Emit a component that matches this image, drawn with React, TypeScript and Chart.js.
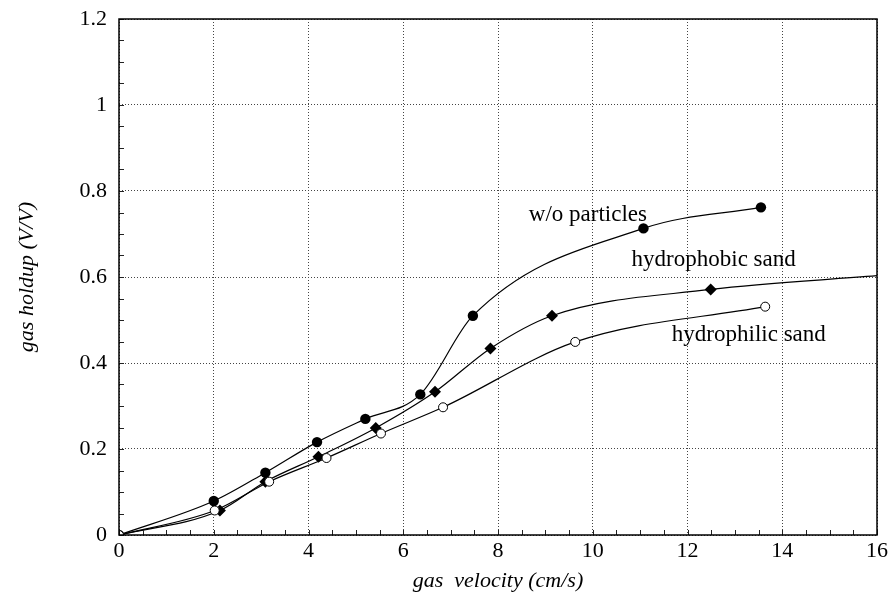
import { useEffect, useRef } from "react";
import { Chart, registerables } from "chart.js";

Chart.register(...registerables);

// Data
const woParticlesX = [0, 2.0, 3.09, 4.18, 5.2, 6.36, 7.47, 11.07, 13.55];
const woParticlesY = [0, 0.079, 0.145, 0.216, 0.27, 0.327, 0.51, 0.713, 0.762];

const hydrophobicX = [0, 2.13, 3.09, 4.21, 5.42, 6.67, 7.84, 9.14, 12.49];
const hydrophobicY = [0, 0.057, 0.124, 0.182, 0.249, 0.333, 0.434, 0.51, 0.571];
// curve continues past the last measured point to the right edge
const hydrophobicCurveEndX = 16;
const hydrophobicCurveEndY = 0.603;

const hydrophilicX = [0, 2.02, 3.17, 4.38, 5.53, 6.84, 9.63, 13.64];
const hydrophilicY = [0, 0.057, 0.124, 0.179, 0.236, 0.297, 0.449, 0.531];

const xTickValues = [0, 2, 4, 6, 8, 10, 12, 14, 16];
const yTickValues = [0, 0.2, 0.4, 0.6, 0.8, 1, 1.2];

const curveLabels = ["w/o particles", "hydrophobic sand", "hydrophilic sand"];
const curveLabelX = [8.65, 10.82, 11.67];
const curveLabelY = [0.73, 0.626, 0.452];

const xTitle = "gas  velocity (cm/s)";
const yTitle = "gas holdup (V/V)";

const FONT = "'Liberation Serif', 'Times New Roman', serif";

function pts(xs: number[], ys: number[]) {
  return xs.map((x, i) => ({ x, y: ys[i] }));
}

export default function App() {
  const ref = useRef<HTMLCanvasElement | null>(null);

  useEffect(() => {
    document.body.style.margin = "0";
    const canvas = ref.current;
    if (!canvas) return;

    const hydrophobicLine = pts(hydrophobicX, hydrophobicY).concat([
      { x: hydrophobicCurveEndX, y: hydrophobicCurveEndY },
    ]);
    const nPhobic = hydrophobicX.length;

    const framePlugin = {
      id: "frameAndLabels",
      afterDraw(chart: any) {
        const { ctx, chartArea } = chart;
        const xs = chart.scales.x;
        const ys = chart.scales.y;
        ctx.save();
        // minor inner ticks
        ctx.strokeStyle = "#222";
        ctx.lineWidth = 1;
        ctx.beginPath();
        for (let i = 0; i <= 32; i++) {
          const px = Math.round(xs.getPixelForValue(i * 0.5)) + 0.5;
          ctx.moveTo(px, chartArea.bottom);
          ctx.lineTo(px, chartArea.bottom - 5);
        }
        for (let i = 0; i <= 24; i++) {
          const py = Math.round(ys.getPixelForValue(i * 0.05)) + 0.5;
          ctx.moveTo(chartArea.left, py);
          ctx.lineTo(chartArea.left + 5, py);
        }
        ctx.stroke();
        // frame
        ctx.strokeStyle = "#000";
        ctx.lineWidth = 1.5;
        ctx.strokeRect(
          chartArea.left,
          chartArea.top,
          chartArea.right - chartArea.left,
          chartArea.bottom - chartArea.top
        );
        // curve labels
        ctx.fillStyle = "#000";
        ctx.font = `23px ${FONT}`;
        ctx.textAlign = "left";
        ctx.textBaseline = "alphabetic";
        curveLabels.forEach((t, i) => {
          ctx.fillText(
            t,
            xs.getPixelForValue(curveLabelX[i]),
            ys.getPixelForValue(curveLabelY[i])
          );
        });
        ctx.restore();
      },
    };

    const chart = new Chart(canvas, {
      type: "scatter",
      data: {
        datasets: [
          {
            label: "hydrophilic sand",
            data: pts(hydrophilicX, hydrophilicY),
            showLine: true,
            cubicInterpolationMode: "monotone",
            borderColor: "#000",
            borderWidth: 1.2,
            backgroundColor: "#fff",
            pointStyle: "circle",
            pointRadius: 4.5,
            pointBorderWidth: 1,
            pointBorderColor: "#000",
            pointBackgroundColor: "#fff",
          },
          {
            label: "hydrophobic sand",
            data: hydrophobicLine,
            showLine: true,
            cubicInterpolationMode: "monotone",
            borderColor: "#000",
            borderWidth: 1.2,
            backgroundColor: "#000",
            pointStyle: "rectRot",
            pointRadius: hydrophobicLine.map((_, i) => (i < nPhobic ? 6 : 0)),
            pointBorderWidth: 0,
            pointBackgroundColor: "#000",
          },
          {
            label: "w/o particles",
            data: pts(woParticlesX, woParticlesY),
            showLine: true,
            cubicInterpolationMode: "monotone",
            borderColor: "#000",
            borderWidth: 1.2,
            backgroundColor: "#000",
            pointStyle: "circle",
            pointRadius: 5.2,
            pointBorderWidth: 0,
            pointBackgroundColor: "#000",
          },
        ] as any,
      },
      options: {
        animation: false,
        responsive: false,
        maintainAspectRatio: false,
        layout: { padding: { top: 19, right: 16, left: 0, bottom: 0 } },
        plugins: {
          legend: { display: false },
          tooltip: { enabled: false },
        },
        scales: {
          x: {
            type: "linear",
            min: 0,
            max: 16,
            afterFit(scale: any) {
              scale.height = 65;
              scale.paddingLeft = 0;
              scale.paddingRight = 0;
            },
            afterBuildTicks(scale: any) {
              scale.ticks = xTickValues.map((v) => ({ value: v }));
            },
            ticks: {
              color: "#000",
              font: { family: FONT, size: 22 },
              padding: 3,
              maxRotation: 0,
              autoSkip: false,
              callback: (v: number) => String(Math.round(v * 10) / 10),
            },
            grid: {
              color: "#444",
              lineWidth: 1,
              drawTicks: false,
            },
            border: { display: false, dash: [1, 2] },
            title: {
              display: true,
              text: xTitle,
              color: "#000",
              font: { family: FONT, size: 22, style: "italic" },
              padding: { top: 0, bottom: 6 },
            },
          },
          y: {
            type: "linear",
            min: 0,
            max: 1.2,
            afterFit(scale: any) {
              scale.width = 119;
              scale.paddingTop = 0;
              scale.paddingBottom = 0;
            },
            afterBuildTicks(scale: any) {
              scale.ticks = yTickValues.map((v) => ({ value: v }));
            },
            ticks: {
              color: "#000",
              font: { family: FONT, size: 22 },
              padding: 12,
              autoSkip: false,
              callback: (v: number) => String(Math.round(v * 10) / 10),
            },
            grid: {
              color: "#444",
              lineWidth: 1,
              drawTicks: false,
            },
            border: { display: false, dash: [1, 2] },
            title: {
              display: true,
              text: yTitle,
              color: "#000",
              font: { family: FONT, size: 22, style: "italic" },
              padding: { top: 14, bottom: 0 },
            },
          },
        },
      } as any,
      plugins: [framePlugin],
    });

    return () => chart.destroy();
  }, []);

  return (
    <div style={{ width: 893, height: 600, background: "#fff" }}>
      <canvas ref={ref} width={893} height={600} style={{ display: "block" }} />
    </div>
  );
}
